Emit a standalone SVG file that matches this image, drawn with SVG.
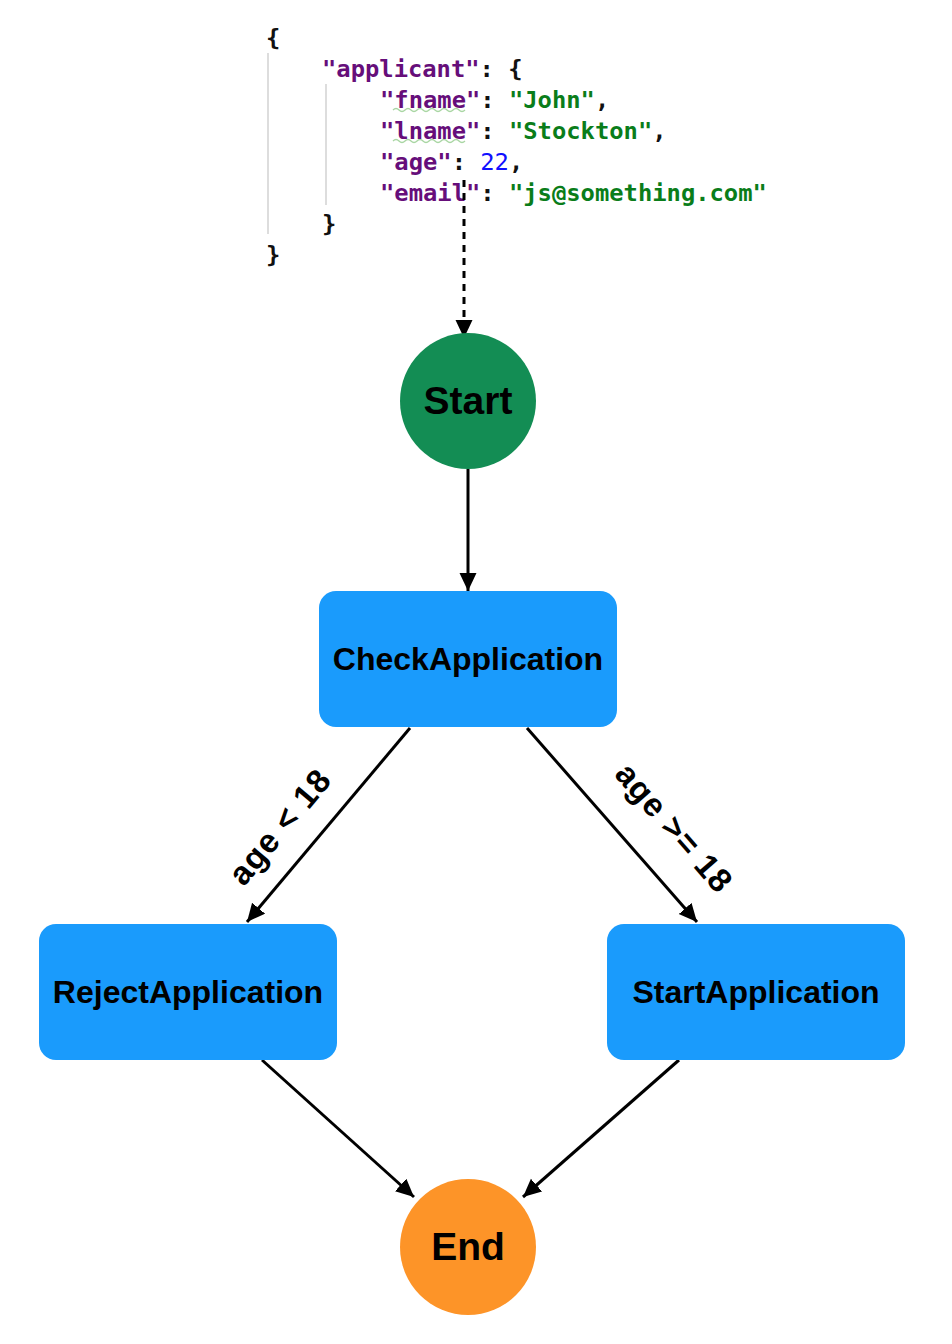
<svg xmlns="http://www.w3.org/2000/svg" width="952" height="1344" viewBox="0 0 952 1344">
  <style>
    .code { font-family: "DejaVu Sans Mono", "Liberation Mono", monospace; font-size: 23.8px; font-weight: bold; }
    .p { fill: #111111; }
    .k { fill: #660e7a; }
    .s { fill: #0a7d1a; }
    .n { fill: #1010ff; font-weight: normal; }
    .guide { stroke: #dddddd; stroke-width: 2; }
    .squig { fill: none; stroke: #a9d6a3; stroke-width: 1.3; }
    .label { font-family: "Liberation Sans", Arial, Helvetica, sans-serif; font-weight: bold; fill: #000; text-anchor: middle; }
    .cond { letter-spacing: 1px; }
    .edge { stroke: #000; stroke-width: 3; fill: none; }
  </style>
  <defs>
    <marker id="arrow" markerUnits="userSpaceOnUse" markerWidth="20" markerHeight="18" refX="18" refY="8.5" orient="auto">
      <path d="M0,0 L18,8.5 L0,17 Z" fill="#000"/>
    </marker>
  </defs>
  <rect width="952" height="1344" fill="#ffffff"/>

  <g id="json">
    <line class="guide" x1="268" y1="53" x2="268" y2="234"/>
    <line class="guide" x1="326" y1="84" x2="326" y2="205"/>
    <path class="squig" d="M393,110 q3,-3 6,0 t6,0 t6,0 t6,0 t6,0 t6,0 t6,0 t6,0 t6,0 t6,0 t6,0 t6,0"/>
    <path class="squig" d="M393,141 q3,-3 6,0 t6,0 t6,0 t6,0 t6,0 t6,0 t6,0 t6,0 t6,0 t6,0 t6,0 t6,0"/>
    <text class="code p" x="266" y="46">{</text>
    <text class="code" x="322" y="77"><tspan class="k">"applicant"</tspan><tspan class="p">: {</tspan></text>
    <text class="code" x="380" y="108"><tspan class="k">"fname"</tspan><tspan class="p">: </tspan><tspan class="s">"John"</tspan><tspan class="p">,</tspan></text>
    <text class="code" x="380" y="139"><tspan class="k">"lname"</tspan><tspan class="p">: </tspan><tspan class="s">"Stockton"</tspan><tspan class="p">,</tspan></text>
    <text class="code" x="380" y="170"><tspan class="k">"age"</tspan><tspan class="p">: </tspan><tspan class="n">22</tspan><tspan class="p">,</tspan></text>
    <text class="code" x="380" y="201"><tspan class="k">"email"</tspan><tspan class="p">: </tspan><tspan class="s">"js@something.com"</tspan></text>
    <text class="code p" x="322" y="232">}</text>
    <text class="code p" x="266" y="263">}</text>
  </g>

  <g id="connectors">
    <line class="edge" x1="464" y1="180" x2="464" y2="338" stroke-width="4" stroke-dasharray="7 6" marker-end="url(#arrow)"/>
    <line class="edge" x1="468" y1="469" x2="468" y2="591" marker-end="url(#arrow)"/>
    <line class="edge" x1="410" y1="728" x2="247" y2="922" marker-end="url(#arrow)"/>
    <line class="edge" x1="527" y1="728" x2="697" y2="922" marker-end="url(#arrow)"/>
    <line class="edge" x1="262" y1="1060" x2="414" y2="1197" marker-end="url(#arrow)"/>
    <line class="edge" x1="679" y1="1060" x2="523" y2="1197" marker-end="url(#arrow)"/>
    <text class="label cond" font-size="33" transform="translate(280,827) rotate(-50)" y="11">age &lt; 18</text>
    <text class="label cond" font-size="33" transform="translate(674,828) rotate(49)" y="11">age &gt;= 18</text>
  </g>

  <g id="start">
    <circle cx="468" cy="401" r="68" fill="#138d54"/>
    <text class="label" font-size="39" x="468" y="414">Start</text>
  </g>
  <g id="check">
    <rect x="319" y="591" width="298" height="136" rx="17" fill="#1a9bfc"/>
    <text class="label" font-size="32" x="468" y="670">CheckApplication</text>
  </g>
  <g id="reject">
    <rect x="39" y="924" width="298" height="136" rx="17" fill="#1a9bfc"/>
    <text class="label" font-size="32" x="188" y="1003">RejectApplication</text>
  </g>
  <g id="startapp">
    <rect x="607" y="924" width="298" height="136" rx="17" fill="#1a9bfc"/>
    <text class="label" font-size="32" x="756" y="1003">StartApplication</text>
  </g>
  <g id="end">
    <circle cx="468" cy="1247" r="68" fill="#fd9428"/>
    <text class="label" font-size="39" x="468" y="1260">End</text>
  </g>
</svg>
